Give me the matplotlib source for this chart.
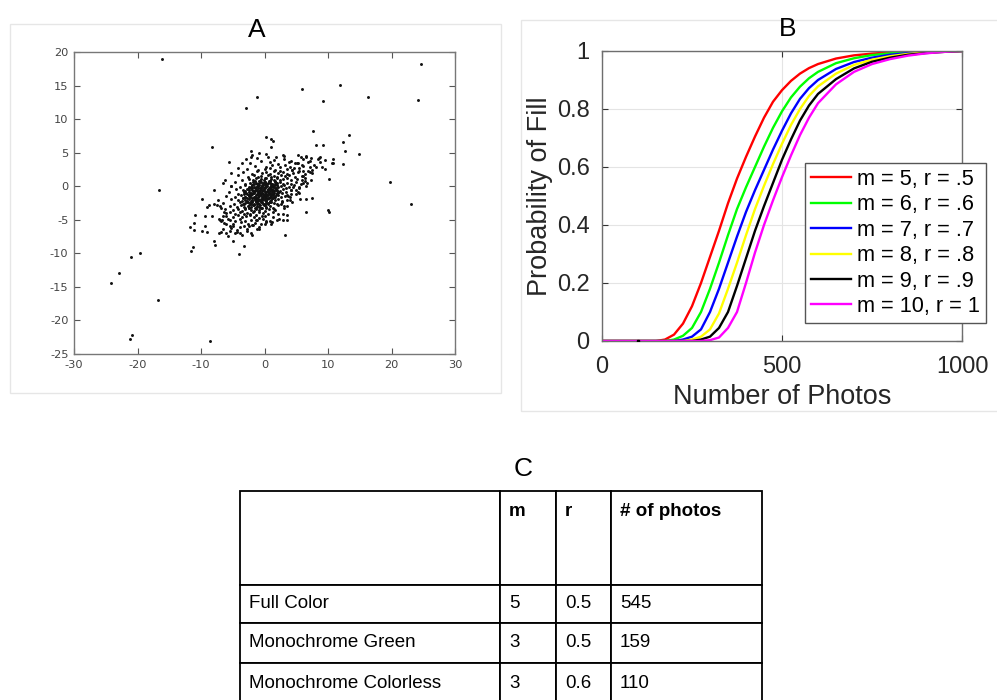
import types
import matplotlib
matplotlib.use("Agg")
import matplotlib.pyplot as plt
from matplotlib.patches import Rectangle

plt.rcParams["axes.unicode_minus"] = False

# ---------------- DATA ----------------
# Panel A: scatter (outliers read individually, cloud estimated)
OUTLIERS = [(-16.2, 19.0), (24.65, 18.26), (11.9, 15.13), (5.85, 14.43), (-1.13, 13.29),
            (16.35, 13.29), (-2.97, 11.65), (9.27, 12.64), (24.2, 12.89), (7.6, 8.17),
            (13.36, 7.62), (8.1, 6.18), (9.27, 6.18), (12.4, 6.62), (12.7, 5.23),
            (14.83, 4.73), (10.84, 4.04), (10.84, 3.44), (12.3, 3.34), (-8.27, 5.83),
            (-5.64, 3.59), (0.2, 7.3), (1.0, 7.1), (1.4, 6.7), (1.0, 5.8), (-2.1, 5.3),
            (-2.1, 4.4), (2.9, 4.7), (19.8, 0.7), (10.2, 1.1), (23.1, -2.7), (10.05, -3.5),
            (10.15, -3.8), (6.6, -3.8), (7.5, -1.8), (6.6, -1.9), (5.6, -1.9), (-16.6, -0.5),
            (-9.9, -1.9), (-9.0, -3.1), (-10.95, -4.3), (-9.3, -4.4), (-11.7, -6.1),
            (-11.05, -5.5), (-11.05, -6.5), (-9.4, -6.0), (-9.8, -6.7), (-9.0, -6.8),
            (-11.3, -9.0), (-11.6, -9.6), (-8.0, -8.1), (-7.8, -8.8), (-4.9, -8.1),
            (-4.0, -10.1), (-3.3, -8.9), (-2.0, -7.2), (3.2, -7.3), (-21.1, -10.5),
            (-19.55, -9.9), (-22.9, -13.0), (-24.2, -14.4), (-16.7, -17.0), (-20.9, -22.1),
            (-21.2, -22.8), (-8.6, -23.1), (-7.2, -7.0), (-6.9, -6.8), (-6.6, -6.4),
            (-7.5, -2.8), (-7.9, -2.6), (-7.0, -2.9), (-6.6, 0.5), (-5.3, 0.0),
            (-7.2, -4.9), (-6.8, -5.2)]

MID_POINTS = [(6.5, 4.5), (5.85, 3.2), (5.1, 3.4), (4.4, 2.4), (5.5, 2.2), (4.0, 2.9),
              (8.4, 4.0), (8.8, 4.3), (7.2, 2.9), (7.5, 2.4), (6.1, 1.45), (5.85, 0.95),
              (6.7, 0.55), (4.5, -0.05), (5.3, -0.8), (3.5, -1.3), (4.0, -2.0), (3.5, -3.0),
              (2.9, -4.2), (3.5, -5.0), (1.9, -5.0), (1.1, -5.6), (0.3, -5.3), (-0.45, -4.5),
              (-1.2, -5.0), (-2.0, -5.8), (-2.8, -6.4), (-4.9, -6.0), (-5.4, -6.6),
              (-4.4, -6.75), (-3.85, -7.0), (-6.0, -4.5), (-6.4, -3.8), (-6.75, -5.0),
              (-6.1, -5.6), (-5.4, -5.1), (-7.0, -5.0), (-6.8, -3.2), (-7.4, -2.1),
              (-6.1, -6.9), (-5.8, -7.4), (-4.6, -7.0), (-3.6, -7.3), (-2.1, -6.9),
              (-0.5, -5.6), (0.3, -5.2), (1.3, -4.6), (2.2, -4.1), (2.9, -5.0), (3.6, -4.3),
              (3.1, -3.3), (4.4, -2.4), (5.0, -1.2), (4.1, -0.6), (5.7, 0.3), (6.3, 1.2),
              (7.5, 2.0), (8.1, 2.9), (8.8, 3.6), (7.2, 3.7), (5.8, 4.3), (9.6, 2.5),
              (10.6, 3.4), (-5.3, 2.0), (-4.1, 2.7), (-3.5, 3.5), (-2.9, 4.1), (-0.9, 5.0),
              (0.2, 4.8), (1.8, 4.3), (-6.2, 0.9), (-7.9, -0.6), (-8.8, -2.8), (-8.3, -4.4),
              (-6.0, -4.0), (-5.2, -6.2), (-3.2, -6.0), (-1.8, -5.8), (-0.9, -6.3),
              (1.6, -3.5), (2.6, -2.6), (3.7, -1.5), (5.5, -0.3), (6.0, 2.3), (4.8, 3.4),
              (3.0, 4.1)]

CLOUD_POINTS = [
    (-2.0, 4.62), (0.5, 4.32), (3.0, 4.55), (5.2, 4.72), (6.5, 4.42), (8.6, 4.26),
    (-1.2, 4.16), (1.5, 3.92), (4.2, 3.78), (6.0, 4.09), (7.4, 4.2), (9.5, 3.85),
    (-2.3, 3.41), (-0.5, 3.71), (0.8, 3.55), (2.2, 3.28), (3.9, 3.62), (5.3, 3.39), (6.8, 3.6),
    (-1.5, 3.07), (0.2, 2.85), (1.2, 3.2), (2.5, 2.92), (3.3, 3.13), (4.6, 2.78), (6.1, 3.01),
    (7.8, 3.22), (9.1, 2.9),
    (-2.8, 2.62), (-1.0, 2.35), (0.0, 2.55), (0.9, 2.71), (1.6, 2.4), (2.4, 2.28), (3.5, 2.6),
    (4.4, 2.46), (5.5, 2.68), (6.9, 2.33),
    (-3.4, 2.1), (-2.0, 1.84), (-1.2, 2.2), (-0.4, 1.95), (0.3, 2.07), (0.9, 1.78), (1.5, 2.24),
    (2.2, 1.9), (2.9, 2.12), (3.6, 1.82), (4.5, 2.02), (5.3, 2.18), (6.4, 1.87), (7.1, 2.05),
    (-4.1, 1.62), (-2.6, 1.35), (-1.7, 1.7), (-1.0, 1.42), (-0.5, 1.58), (0.0, 1.27), (0.5, 1.66),
    (1.0, 1.4), (1.5, 1.55), (2.0, 1.31), (2.6, 1.72), (3.2, 1.45), (3.9, 1.6), (4.8, 1.3),
    (5.9, 1.52),
    (-3.6, 0.88), (-2.4, 1.15), (-1.8, 0.95), (-1.3, 1.22), (-0.9, 0.8), (-0.5, 1.06),
    (-0.1, 0.92), (0.3, 1.18), (0.7, 0.84), (1.1, 1.1), (1.5, 0.97), (1.9, 1.24), (2.4, 0.86),
    (2.9, 1.02), (3.5, 1.2), (4.2, 0.9), (5.1, 1.12), (6.3, 0.83), (7.3, 1.0),
    (-4.6, 0.62), (-3.1, 0.38), (-2.3, 0.55), (-1.8, 0.7), (-1.4, 0.42), (-1.0, 0.28),
    (-0.6, 0.6), (-0.3, 0.47), (0.0, 0.66), (0.3, 0.33), (0.6, 0.52), (0.9, 0.74), (1.2, 0.36),
    (1.6, 0.58), (2.0, 0.45), (2.4, 0.7), (2.9, 0.3), (3.5, 0.55), (4.1, 0.4), (5.0, 0.65),
    (6.0, 0.5),
    (-5.2, 0.1), (-3.9, -0.15), (-3.0, 0.2), (-2.4, -0.05), (-1.9, 0.13), (-1.5, -0.22),
    (-1.1, 0.06), (-0.8, 0.18), (-0.5, -0.12), (-0.2, 0.24), (0.1, -0.08), (0.4, 0.09),
    (0.7, -0.2), (1.0, 0.15), (1.3, -0.03), (1.7, 0.21), (2.1, -0.17), (2.6, 0.04), (3.1, 0.12),
    (3.8, -0.1), (4.6, 0.19), (5.5, -0.06), (6.6, 0.08),
    (-4.5, -0.38), (-3.4, -0.62), (-2.7, -0.45), (-2.2, -0.28), (-1.8, -0.7), (-1.4, -0.52),
    (-1.1, -0.33), (-0.8, -0.66), (-0.5, -0.41), (-0.2, -0.58), (0.1, -0.25), (0.4, -0.72),
    (0.7, -0.47), (1.0, -0.35), (1.3, -0.6), (1.6, -0.3), (2.0, -0.55), (2.4, -0.68),
    (2.9, -0.4), (3.4, -0.27), (4.1, -0.63), (4.9, -0.5),
    (-5.6, -0.9), (-4.2, -1.14), (-3.3, -0.82), (-2.7, -1.2), (-2.2, -0.95), (-1.8, -1.08),
    (-1.5, -0.78), (-1.2, -1.23), (-0.9, -0.88), (-0.6, -1.05), (-0.3, -1.18), (0.0, -0.86),
    (0.3, -1.1), (0.6, -0.93), (0.9, -1.22), (1.2, -0.8), (1.5, -1.02), (1.9, -1.15),
    (2.3, -0.9), (2.8, -1.07), (3.4, -0.84), (4.2, -1.19), (5.4, -0.97),
    (-6.0, -1.42), (-4.6, -1.6), (-3.7, -1.33), (-3.0, -1.68), (-2.5, -1.46), (-2.1, -1.28),
    (-1.7, -1.57), (-1.4, -1.72), (-1.1, -1.38), (-0.8, -1.52), (-0.5, -1.25), (-0.2, -1.65),
    (0.1, -1.44), (0.4, -1.3), (0.7, -1.7), (1.0, -1.5), (1.3, -1.35), (1.7, -1.62),
    (2.1, -1.27), (2.6, -1.55), (3.2, -1.4), (4.0, -1.66),
    (-5.3, -1.9), (-4.1, -2.12), (-3.4, -1.8), (-2.8, -2.2), (-2.4, -1.95), (-2.0, -2.07),
    (-1.7, -1.78), (-1.4, -2.24), (-1.1, -1.88), (-0.8, -2.02), (-0.5, -2.18), (-0.2, -1.84),
    (0.1, -2.1), (0.4, -1.93), (0.8, -2.21), (1.2, -1.82), (1.6, -2.05), (2.1, -1.9),
    (2.7, -2.15), (3.5, -1.98),
    (-6.6, -2.45), (-4.8, -2.6), (-3.8, -2.35), (-3.2, -2.7), (-2.7, -2.42), (-2.3, -2.55),
    (-1.9, -2.28), (-1.6, -2.66), (-1.3, -2.4), (-1.0, -2.52), (-0.7, -2.73), (-0.4, -2.3),
    (-0.1, -2.58), (0.2, -2.44), (0.6, -2.62), (1.0, -2.36), (1.5, -2.5), (2.0, -2.68),
    (2.8, -2.4),
    (-5.5, -2.9), (-4.4, -3.15), (-3.7, -2.82), (-3.1, -3.2), (-2.6, -2.95), (-2.2, -3.08),
    (-1.8, -2.8), (-1.5, -3.22), (-1.2, -2.92), (-0.9, -3.05), (-0.5, -3.18), (-0.1, -2.86),
    (0.3, -3.1), (0.8, -2.94), (1.4, -3.2), (2.2, -2.84), (3.0, -3.02),
    (-6.2, -3.42), (-4.9, -3.6), (-4.1, -3.35), (-3.5, -3.68), (-3.0, -3.46), (-2.5, -3.3),
    (-2.1, -3.58), (-1.7, -3.72), (-1.3, -3.4), (-0.9, -3.54), (-0.4, -3.27), (0.1, -3.64),
    (0.7, -3.45), (1.5, -3.33),
    (-5.4, -3.9), (-4.6, -4.12), (-3.9, -3.82), (-3.3, -4.2), (-2.8, -3.96), (-2.3, -4.08),
    (-1.8, -3.8), (-1.3, -4.22), (-0.8, -3.9), (-0.2, -4.04), (0.5, -4.16), (1.4, -3.86),
    (-6.5, -4.42), (-5.0, -4.6), (-4.2, -4.35), (-3.5, -4.66), (-2.9, -4.48), (-2.3, -4.3),
    (-1.6, -4.58), (-0.9, -4.7), (0.0, -4.4),
    (-5.7, -4.92), (-4.6, -5.12), (-3.8, -4.85), (-3.0, -5.2), (-2.2, -4.96), (-1.3, -5.1),
    (-0.3, -4.82), (0.8, -5.18), (2.3, -4.95),
    (-6.3, -5.42), (-4.9, -5.6), (-3.7, -5.35), (-2.6, -5.65), (-1.5, -5.45), (0.0, -5.58),
    (1.2, -5.38),
    (-5.4, -5.95), (-3.9, -6.15), (-2.4, -5.88), (-0.8, -6.1),
    (-4.3, -6.45), (-2.8, -6.62), (-1.2, -6.38),
    (-2.5, -0.2), (-1.9, -0.32), (-1.3, -0.18), (-0.7, -0.3), (-0.1, -0.22), (0.5, -0.35),
    (1.1, -0.15), (1.8, -0.28),
    (-3.0, -0.7), (-2.4, -0.82), (-1.6, -0.68), (-1.0, -0.8), (-0.4, -0.74), (0.2, -0.86),
    (0.8, -0.7), (1.5, -0.78), (2.2, -0.84),
    (-3.2, -1.2), (-2.5, -1.32), (-1.9, -1.22), (-1.3, -1.3), (-0.7, -1.18), (-0.1, -1.34),
    (0.5, -1.26), (1.1, -1.2), (1.8, -1.3),
    (-3.4, -1.7), (-2.7, -1.82), (-2.0, -1.76), (-1.3, -1.7), (-0.6, -1.84), (0.0, -1.72),
    (0.6, -1.8), (1.3, -1.74),
    (-3.5, -2.2), (-2.6, -2.3), (-1.9, -2.26), (-1.2, -2.2), (-0.5, -2.32), (0.2, -2.24),
    (0.9, -2.3),
    (-3.4, -2.7), (-2.4, -2.82), (-1.6, -2.76), (-0.8, -2.7), (0.0, -2.8),
    (-2.0, 0.2), (-1.2, 0.3), (-0.4, 0.22), (0.4, 0.32), (1.2, 0.26), (2.0, 0.2),
    (-1.5, 0.72), (-0.7, 0.8), (0.1, 0.7), (0.9, 0.78), (1.7, 0.74),
]

CORE_POINTS = [
    (-2.2, -0.05), (-1.6, -0.14), (-1.0, -0.02), (-0.4, -0.12), (0.2, -0.04), (0.8, -0.15),
    (1.4, -0.07),
    (-2.5, -0.5), (-1.9, -0.6), (-1.25, -0.52), (-0.65, -0.58), (-0.05, -0.5), (0.55, -0.6),
    (1.15, -0.54), (1.8, -0.62),
    (-2.9, -1.0), (-2.35, -1.1), (-1.65, -1.02), (-1.05, -1.08), (-0.45, -0.98),
    (0.15, -1.1), (0.75, -1.02), (1.35, -1.12), (2.0, -1.04),
    (-3.1, -1.55), (-2.3, -1.65), (-1.55, -1.58), (-0.95, -1.66), (-0.35, -1.54),
    (0.25, -1.62), (0.85, -1.56), (1.5, -1.64),
    (-3.0, -2.05), (-2.2, -2.14), (-1.55, -2.06), (-0.95, -2.12), (-0.35, -2.04),
    (0.25, -2.15), (1.0, -2.08),
    (-3.0, -2.55), (-2.05, -2.64), (-1.15, -2.58), (-0.25, -2.66), (0.5, -2.56),
    (-3.3, -3.15), (-2.4, -3.25), (-1.4, -3.18), (-0.6, -3.26), (0.2, -3.2),
    (-1.6, 0.38), (-0.8, 0.45), (0.0, 0.36), (0.8, 0.44), (1.6, 0.4),
]

# Panel B: probability curves
PHOTOS = [0, 100, 150, 175, 200, 225, 250, 275, 300, 325, 350, 375, 400, 425, 450, 475,
          500, 525, 550, 575, 600, 650, 700, 750, 800, 850, 900, 950, 1000]
P_M5 = [0, 0, 0, 0.005, 0.022, 0.06, 0.12, 0.2, 0.29, 0.38, 0.475, 0.56, 0.635, 0.705, 0.77,
        0.825, 0.865, 0.897, 0.922, 0.941, 0.955, 0.974, 0.985, 0.991, 0.995, 0.997, 0.999, 1.0, 1.0]
P_M6 = [0, 0, 0, 0, 0.005, 0.018, 0.045, 0.1, 0.18, 0.27, 0.365, 0.455, 0.53, 0.6, 0.67, 0.735,
        0.792, 0.84, 0.877, 0.906, 0.928, 0.958, 0.975, 0.986, 0.992, 0.996, 0.998, 0.999, 1.0]
P_M7 = [0, 0, 0, 0, 0, 0.005, 0.015, 0.04, 0.1, 0.18, 0.27, 0.36, 0.445, 0.52, 0.59, 0.66,
        0.725, 0.785, 0.835, 0.872, 0.9, 0.938, 0.962, 0.977, 0.987, 0.993, 0.997, 0.999, 1.0]
P_M8 = [0, 0, 0, 0, 0, 0, 0.005, 0.015, 0.04, 0.095, 0.18, 0.27, 0.365, 0.455, 0.535, 0.61,
        0.68, 0.745, 0.8, 0.845, 0.878, 0.922, 0.952, 0.97, 0.982, 0.99, 0.995, 0.998, 1.0]
P_M9 = [0, 0, 0, 0, 0, 0, 0, 0.005, 0.015, 0.045, 0.1, 0.19, 0.285, 0.38, 0.465, 0.545,
        0.625, 0.695, 0.76, 0.812, 0.852, 0.903, 0.94, 0.963, 0.977, 0.987, 0.993, 0.997, 1.0]
P_M10 = [0, 0, 0, 0, 0, 0, 0, 0, 0.003, 0.012, 0.045, 0.1, 0.2, 0.305, 0.4, 0.485,
         0.565, 0.64, 0.71, 0.77, 0.82, 0.885, 0.928, 0.955, 0.972, 0.984, 0.992, 0.997, 1.0]
CURVES = [P_M5, P_M6, P_M7, P_M8, P_M9, P_M10]
CURVE_COLORS = ["#ff0000", "#00ff00", "#0000ff", "#ffff00", "#000000", "#ff00ff"]
LEGEND_LABELS = ["m = 5, r = .5", "m = 6, r = .6", "m = 7, r = .7",
                 "m = 8, r = .8", "m = 9, r = .9", "m = 10, r = 1"]
MARK_X = [100]
MARK_Y = [0]

# Panel C: table
TABLE_HEADER = ["", "m", "r", "# of photos"]
CONDITIONS = ["Full Color", "Monochrome Green", "Monochrome Colorless"]
M_VALUES = ["5", "3", "3"]
R_VALUES = ["0.5", "0.5", "0.6"]
N_PHOTOS = ["545", "159", "110"]

# ---------------- FIGURE ----------------
W, H = 997, 700
fig = plt.figure(figsize=(W / 100, H / 100), dpi=100)
SANS = ["Liberation Sans", "DejaVu Sans"]


def fx(px):
    return px / W


def fy(py):
    return 1 - py / H


def frect(l, t, r, b):
    return [fx(l), fy(b), (r - l) / W, (b - t) / H]


# light panel frames
for (l, t, r, b) in [(10, 24, 501, 393), (521, 20, 1000, 411)]:
    fig.add_artist(Rectangle((fx(l), fy(b)), (r - l) / W, (b - t) / H,
                             transform=fig.transFigure, fill=False,
                             ec="#e6e6e6", lw=1))

# ---- Panel A ----
axA = fig.add_axes(frect(74, 52, 455, 354))
allpts = CLOUD_POINTS + CORE_POINTS + MID_POINTS + OUTLIERS
axA.scatter([p[0] for p in allpts], [p[1] for p in allpts], s=4.5, c="#111111",
            linewidths=0, marker="o")
axA.set_xlim(-30, 30)
axA.set_ylim(-25, 20)
axA.set_xticks(range(-30, 31, 10))
axA.set_yticks(range(-25, 21, 5))
axA.tick_params(direction="in", length=4, width=0.8, top=True, right=True,
                labelsize=8.2, pad=4, colors="#555555", labelcolor="#444444")
for s in axA.spines.values():
    s.set_color("#777777")
    s.set_linewidth(1)
fig.text(fx(257), fy(37), "A", ha="center", va="baseline", fontsize=19, family=SANS)

# ---- Panel B ----
axB = fig.add_axes(frect(602, 51, 962, 341))
for ys, col in zip(CURVES, CURVE_COLORS):
    axB.plot(PHOTOS, ys, color=col, lw=1.7, solid_joinstyle="round")
axB.plot(MARK_X, MARK_Y, "s", color="black", ms=1.6, zorder=5)
axB.set_xlim(0, 1000)
axB.set_ylim(0, 1)
axB.set_xticks([0, 500, 1000])
axB.set_yticks([0, 0.2, 0.4, 0.6, 0.8, 1.0])
axB.set_yticklabels(["0", "0.2", "0.4", "0.6", "0.8", "1"])
axB.grid(True, color="#e4e4e4", lw=0.8)
axB.set_axisbelow(True)
axB.tick_params(direction="in", length=4, width=0.8, top=True, right=True,
                labelsize=17, pad=9, colors="#333333", labelcolor="#262626")
axB.tick_params(axis="x", pad=11)
for lab in axB.get_xticklabels() + axB.get_yticklabels():
    lab.set_family(SANS)
for s in axB.spines.values():
    s.set_color("#6e6e6e")
    s.set_linewidth(1)
axB.set_xlabel("Number of Photos", fontsize=19.5, family=SANS, color="#262626")
axB.set_ylabel("Probability of Fill", fontsize=19.5, family=SANS, color="#262626")
axB.xaxis.set_label_coords(0.5, (341 - 384) / 290)
axB.yaxis.set_label_coords((553 - 602) / 360, 0.5)
leg = axB.legend(LEGEND_LABELS, loc="upper left", bbox_to_anchor=(fx(805), fy(163)),
                 bbox_transform=fig.transFigure, fancybox=False, framealpha=1,
                 edgecolor="#555555", borderaxespad=0, borderpad=0.28,
                 labelspacing=0.2, handlelength=1.85, handletextpad=0.25,
                 prop={"family": SANS, "size": 15.7})
leg.get_frame().set_linewidth(1)
fig.text(fx(788), fy(36), "B", ha="center", va="baseline", fontsize=19, family=SANS)

# ---- Panel C ----
fig.text(fx(523), fy(476), "C", ha="center", va="baseline", fontsize=19, family=SANS)
axC = fig.add_axes(frect(240, 491, 762, 703))
axC.axis("off")
body = [[c, m, r, n] for c, m, r, n in zip(CONDITIONS, M_VALUES, R_VALUES, N_PHOTOS)]
col_px = [260, 56, 55, 151]
tbl = axC.table(cellText=body, colLabels=TABLE_HEADER,
                colWidths=[w / sum(col_px) for w in col_px],
                cellLoc="left", bbox=[0, 0, 1, 1])
tbl.auto_set_font_size(False)
tbl.set_fontsize(13.5)
row_px = [94, 38, 40, 40]


def _text_pos_header(self, renderer):
    bb = self.get_window_extent(renderer)
    self._text.set_position((bb.x0 + 9, bb.y1 - 12))


def _text_pos_body(self, renderer):
    bb = self.get_window_extent(renderer)
    self._text.set_position((bb.x0 + 9, bb.y0 + bb.height / 2))


for (r, c), cell in tbl.get_celld().items():
    cell.set_height(row_px[r] / sum(row_px))
    cell.set_edgecolor("black")
    cell.set_linewidth(1.3)
    t = cell.get_text()
    t.set_family(SANS)
    t.set_ha("left")
    if r == 0:
        t.set_weight("bold")
        t.set_va("top")
        cell._set_text_position = types.MethodType(_text_pos_header, cell)
    else:
        t.set_va("center")
        cell._set_text_position = types.MethodType(_text_pos_body, cell)

fig.savefig("out.png", dpi=100)
